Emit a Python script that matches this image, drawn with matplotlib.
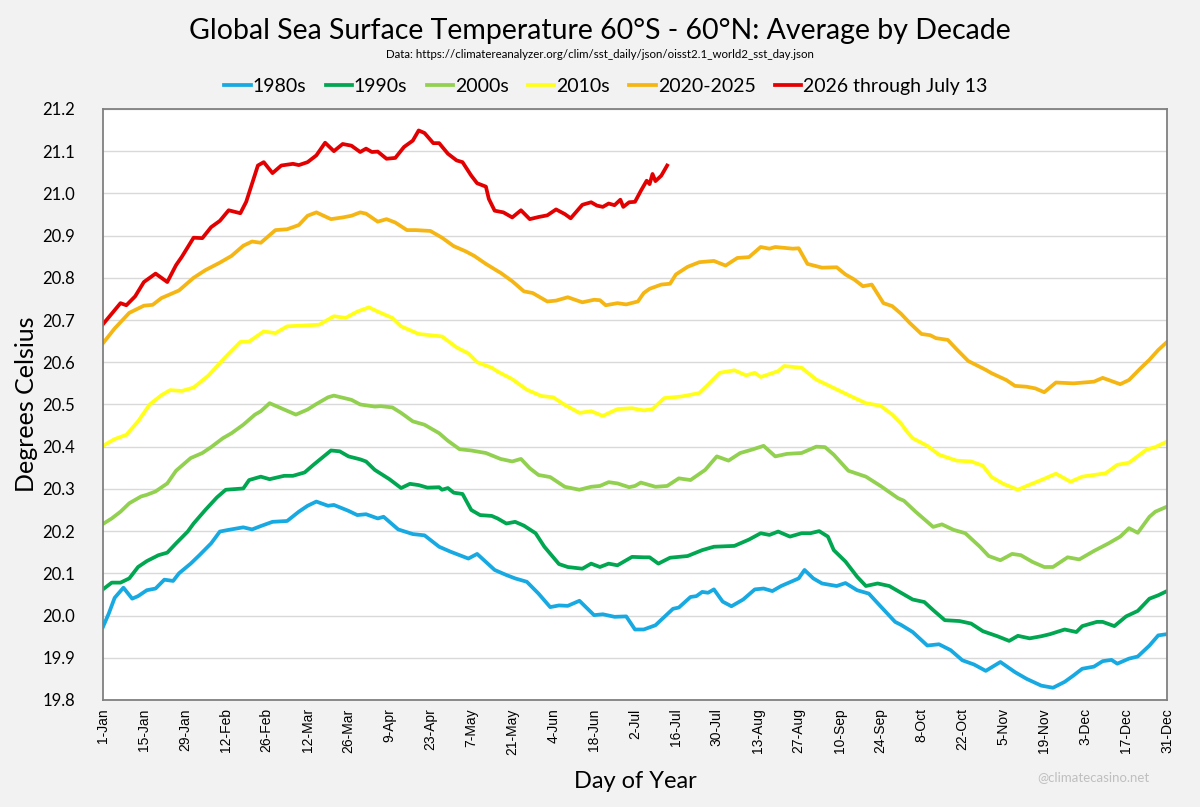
import matplotlib
matplotlib.use("Agg")
import matplotlib.pyplot as plt

# Данные (день года, температура)
days_1980 = [1, 3, 5, 8, 11, 13, 16, 19, 22, 25, 27, 31, 34, 38, 41, 44, 49, 52, 55, 59, 64, 68, 71, 74, 78, 80, 85, 88, 91, 95, 97,
             102, 107, 111, 116, 120, 126, 129, 135, 139, 142, 146, 150, 154, 157, 160, 164, 169, 172, 176, 180, 183, 186, 190,
             196, 198, 202, 204, 206, 208, 210, 213, 216, 220, 224, 227, 230, 233, 237, 239, 241, 244, 247, 252, 255, 259, 263,
             267, 272, 274, 278, 283, 287, 291, 295, 299, 303, 308, 313, 317, 322, 326, 330, 333, 336, 340, 343, 346, 348, 352,
             355, 359, 362, 365]
sst_1980 = [19.973, 20.005, 20.042, 20.066, 20.040, 20.046, 20.060, 20.064, 20.085, 20.082, 20.100, 20.123, 20.143, 20.171,
            20.199, 20.203, 20.209, 20.204, 20.212, 20.222, 20.224, 20.246, 20.260, 20.270, 20.260, 20.262, 20.248, 20.238,
            20.240, 20.230, 20.234, 20.204, 20.193, 20.190, 20.163, 20.151, 20.135, 20.146, 20.108, 20.096, 20.088, 20.080,
            20.052, 20.020, 20.024, 20.023, 20.035, 20.001, 20.003, 19.997, 19.998, 19.967, 19.967, 19.977, 20.016, 20.019,
            20.044, 20.046, 20.056, 20.054, 20.062, 20.033, 20.022, 20.038, 20.062, 20.064, 20.058, 20.070, 20.082, 20.088,
            20.108, 20.088, 20.076, 20.070, 20.077, 20.060, 20.052, 20.022, 19.985, 19.978, 19.961, 19.929, 19.932, 19.918,
            19.894, 19.884, 19.869, 19.890, 19.866, 19.850, 19.834, 19.829, 19.843, 19.858, 19.874, 19.879, 19.892, 19.895,
            19.886, 19.898, 19.903, 19.929, 19.953, 19.956]

days_1990 = [1, 4, 7, 10, 13, 16, 20, 23, 26, 30, 32, 36, 40, 43, 49, 51, 55, 58, 63, 66, 70, 73, 79, 82, 85, 89, 91, 94, 99, 103,
             106, 109, 112, 116, 117, 119, 121, 124, 127, 130, 134, 136, 139, 142, 145, 149, 152, 157, 160, 165, 168, 171, 174,
             177, 182, 186, 188, 191, 195, 201, 206, 210, 217, 222, 226, 229, 232, 236, 240, 243, 246, 249, 251, 255, 259, 262,
             266, 270, 274, 278, 282, 285, 289, 294, 298, 302, 307, 311, 314, 318, 322, 325, 330, 334, 336, 341, 343, 347, 351,
             355, 359, 362, 365]
sst_1990 = [20.062, 20.078, 20.078, 20.088, 20.115, 20.129, 20.143, 20.149, 20.171, 20.199, 20.218, 20.250, 20.280, 20.298,
            20.301, 20.321, 20.329, 20.323, 20.331, 20.331, 20.339, 20.357, 20.391, 20.389, 20.377, 20.370, 20.365, 20.345,
            20.323, 20.302, 20.312, 20.309, 20.303, 20.304, 20.298, 20.302, 20.291, 20.288, 20.250, 20.238, 20.236, 20.230,
            20.218, 20.222, 20.213, 20.195, 20.163, 20.122, 20.115, 20.111, 20.123, 20.115, 20.123, 20.119, 20.139, 20.138,
            20.138, 20.123, 20.137, 20.141, 20.155, 20.163, 20.165, 20.180, 20.195, 20.191, 20.199, 20.187, 20.195, 20.195,
            20.200, 20.187, 20.155, 20.128, 20.092, 20.070, 20.076, 20.070, 20.054, 20.038, 20.032, 20.013, 19.989, 19.987,
            19.981, 19.963, 19.951, 19.940, 19.952, 19.946, 19.951, 19.956, 19.967, 19.961, 19.975, 19.985, 19.985, 19.975,
            19.998, 20.011, 20.040, 20.048, 20.058]

days_2000 = [1, 4, 7, 10, 14, 16, 19, 23, 26, 28, 31, 35, 38, 42, 45, 49, 53, 55, 58, 62, 67, 71, 74, 78, 80, 86, 89, 94, 96, 100,
             103, 107, 111, 116, 119, 123, 127, 132, 137, 141, 144, 147, 150, 154, 159, 164, 168, 171, 174, 177, 181, 183, 185,
             190, 194, 198, 202, 207, 211, 215, 219, 223, 227, 231, 235, 240, 245, 248, 251, 256, 262, 267, 273, 275, 279, 281,
             285, 288, 292, 296, 301, 304, 308, 312, 315, 319, 323, 326, 331, 335, 340, 345, 349, 352, 355, 359, 361, 365]
sst_2000 = [20.217, 20.230, 20.246, 20.266, 20.282, 20.286, 20.294, 20.313, 20.343, 20.355, 20.373, 20.385, 20.399, 20.420,
            20.432, 20.452, 20.476, 20.484, 20.503, 20.491, 20.476, 20.488, 20.501, 20.517, 20.521, 20.511, 20.500, 20.495,
            20.496, 20.493, 20.480, 20.460, 20.452, 20.432, 20.414, 20.394, 20.391, 20.385, 20.371, 20.365, 20.371, 20.349,
            20.333, 20.328, 20.305, 20.298, 20.305, 20.307, 20.316, 20.313, 20.304, 20.307, 20.315, 20.305, 20.307, 20.325,
            20.321, 20.345, 20.377, 20.367, 20.385, 20.393, 20.402, 20.377, 20.383, 20.385, 20.400, 20.399, 20.381, 20.343,
            20.329, 20.307, 20.278, 20.272, 20.246, 20.234, 20.210, 20.216, 20.203, 20.195, 20.163, 20.141, 20.131, 20.146,
            20.143, 20.127, 20.115, 20.115, 20.138, 20.133, 20.153, 20.171, 20.187, 20.207, 20.196, 20.234, 20.246, 20.258]

days_2010 = [1, 5, 9, 13, 17, 21, 24, 28, 32, 37, 43, 48, 51, 56, 60, 64, 75, 80, 84, 88, 92, 95, 100, 103, 109, 117, 122, 126,
             129, 134, 136, 141, 146, 151, 155, 159, 164, 168, 172, 177, 182, 186, 189, 193, 199, 205, 208, 212, 217, 221, 224,
             226, 232, 234, 240, 245, 251, 257, 262, 267, 271, 274, 276, 278, 283, 287, 293, 298, 302, 305, 309, 314, 317, 322,
             327, 332, 336, 340, 344, 348, 352, 358, 361, 365]
sst_2010 = [20.402, 20.418, 20.428, 20.460, 20.500, 20.522, 20.534, 20.532, 20.540, 20.568, 20.613, 20.648, 20.649, 20.673,
            20.669, 20.685, 20.689, 20.709, 20.705, 20.720, 20.730, 20.720, 20.705, 20.685, 20.667, 20.661, 20.635, 20.621,
            20.600, 20.587, 20.578, 20.560, 20.535, 20.520, 20.517, 20.499, 20.480, 20.484, 20.473, 20.489, 20.491, 20.486,
            20.489, 20.515, 20.519, 20.527, 20.547, 20.575, 20.581, 20.569, 20.575, 20.565, 20.579, 20.591, 20.587, 20.559,
            20.539, 20.519, 20.503, 20.497, 20.476, 20.455, 20.436, 20.420, 20.402, 20.381, 20.367, 20.365, 20.355, 20.328,
            20.312, 20.298, 20.307, 20.321, 20.336, 20.317, 20.329, 20.333, 20.337, 20.357, 20.362, 20.393, 20.399, 20.412]

days_2020 = [1, 5, 10, 15, 18, 21, 27, 32, 36, 41, 45, 49, 52, 55, 60, 64, 68, 71, 74, 79, 83, 86, 89, 91, 95, 98, 101, 105, 108,
             113, 117, 121, 125, 128, 132, 136, 137, 141, 145, 148, 153, 156, 160, 165, 169, 171, 173, 177, 180, 184, 186, 188,
             192, 195, 197, 201, 205, 210, 214, 218, 222, 226, 229, 231, 237, 239, 242, 247, 252, 255, 258, 261, 264, 268, 271,
             274, 277, 281, 284, 286, 290, 293, 297, 303, 305, 310, 313, 317, 320, 323, 327, 333, 340, 343, 349, 352, 356, 359,
             362, 365]
sst_2020 = [20.645, 20.680, 20.717, 20.734, 20.736, 20.752, 20.770, 20.800, 20.818, 20.836, 20.852, 20.876, 20.886, 20.883,
            20.913, 20.915, 20.925, 20.947, 20.955, 20.939, 20.943, 20.947, 20.955, 20.952, 20.933, 20.939, 20.931, 20.913,
            20.913, 20.911, 20.895, 20.875, 20.863, 20.852, 20.833, 20.816, 20.812, 20.792, 20.768, 20.764, 20.744, 20.746,
            20.754, 20.742, 20.748, 20.747, 20.735, 20.740, 20.737, 20.744, 20.764, 20.774, 20.784, 20.786, 20.808, 20.826,
            20.837, 20.840, 20.829, 20.847, 20.849, 20.873, 20.869, 20.873, 20.869, 20.870, 20.833, 20.824, 20.825, 20.808,
            20.796, 20.780, 20.784, 20.740, 20.733, 20.715, 20.693, 20.667, 20.664, 20.657, 20.653, 20.631, 20.603, 20.582,
            20.574, 20.558, 20.544, 20.542, 20.538, 20.529, 20.552, 20.550, 20.554, 20.563, 20.548, 20.558, 20.586, 20.606,
            20.629, 20.648]

days_2026 = [1, 7, 9, 12, 15, 19, 23, 26, 28, 32, 35, 38, 41, 44, 48, 50, 54, 56, 59, 62, 66, 68, 71, 74, 77, 80, 83, 86, 89, 91,
             93, 95, 98, 101, 104, 107, 109, 111, 114, 116, 119, 122, 124, 127, 129, 132, 133, 135, 138, 141, 144, 147, 150,
             153, 156, 159, 161, 165, 168, 170, 172, 174, 176, 178, 179, 181, 183, 185, 187, 188, 189, 190, 192, 194]
sst_2026 = [20.690, 20.740, 20.735, 20.756, 20.790, 20.810, 20.790, 20.830, 20.850, 20.895, 20.894, 20.920, 20.935, 20.960,
            20.953, 20.980, 21.066, 21.074, 21.048, 21.066, 21.070, 21.067, 21.074, 21.090, 21.120, 21.100, 21.117, 21.113,
            21.098, 21.106, 21.098, 21.099, 21.082, 21.084, 21.110, 21.125, 21.149, 21.143, 21.119, 21.119, 21.094, 21.078,
            21.074, 21.042, 21.024, 21.016, 20.987, 20.959, 20.955, 20.943, 20.960, 20.939, 20.944, 20.948, 20.962, 20.951,
            20.941, 20.973, 20.979, 20.971, 20.968, 20.976, 20.972, 20.985, 20.968, 20.979, 20.980, 21.006, 21.030, 21.022,
            21.046, 21.029, 21.042, 21.066]

tick_days = [1, 15, 29, 43, 57, 71, 85, 99, 113, 127, 141, 155, 169, 183, 197, 211, 225, 239, 253, 267, 281, 295, 309, 323,
             337, 351, 365]
tick_labels = ['1-Jan', '15-Jan', '29-Jan', '12-Feb', '26-Feb', '12-Mar', '26-Mar', '9-Apr', '23-Apr', '7-May', '21-May',
               '4-Jun', '18-Jun', '2-Jul', '16-Jul', '30-Jul', '13-Aug', '27-Aug', '10-Sep', '24-Sep', '8-Oct', '22-Oct',
               '5-Nov', '19-Nov', '3-Dec', '17-Dec', '31-Dec']
y_ticks = [19.8, 19.9, 20.0, 20.1, 20.2, 20.3, 20.4, 20.5, 20.6, 20.7, 20.8, 20.9, 21.0, 21.1, 21.2]

series = [
    (days_1980, sst_1980, '1980s', '#17a9e1'),
    (days_1990, sst_1990, '1990s', '#00a650'),
    (days_2000, sst_2000, '2000s', '#92d050'),
    (days_2010, sst_2010, '2010s', '#ffff1a'),
    (days_2020, sst_2020, '2020-2025', '#f5b614'),
    (days_2026, sst_2026, '2026 through July 13', '#e30000'),
]

plt.rcParams['font.family'] = ['Lato', 'DejaVu Sans']

fig = plt.figure(figsize=(12, 8.07), dpi=100, facecolor='#f2f2f2')
ax = fig.add_axes([0.0858, 0.1326, 0.8867, 0.7324])
ax.set_facecolor('white')

for d, v, name, col in series:
    ax.plot(d, v, color=col, lw=2.7, label=name, solid_joinstyle='round')

ax.set_xlim(1, 365)
ax.set_ylim(19.8, 21.2)
ax.set_yticks(y_ticks)
ax.set_yticklabels([f'{t:.1f}' for t in y_ticks], fontsize=12)
ax.set_xticks(tick_days)
ax.set_xticklabels(tick_labels, rotation=90, fontsize=10, family='Liberation Sans')
ax.tick_params(axis='y', length=0, pad=20)
ax.tick_params(axis='x', length=0, pad=6)
ax.grid(axis='y', color='#d9d9d9', lw=1)
ax.set_axisbelow(True)
for s in ax.spines.values():
    s.set_color('#808080')
    s.set_linewidth(1.3)

ax.set_ylabel('Degrees Celsius', fontsize=18)
ax.yaxis.set_label_coords(-0.061, 0.5)
ax.set_xlabel('Day of Year', fontsize=17, labelpad=12)

fig.text(0.5, 0.962, 'Global Sea Surface Temperature 60°S - 60°N: Average by Decade',
         ha='center', va='center', fontsize=20.5)
fig.text(0.5, 0.933, 'Data: https://climatereanalyzer.org/clim/sst_daily/json/oisst2.1_world2_sst_day.json',
         ha='center', va='center', fontsize=8.3)
fig.text(0.958, 0.037, '@climatecasino.net', ha='right', va='center', fontsize=9.5, color='#bfbfbf')

fig.legend(loc='center', bbox_to_anchor=(0.505, 0.893), ncol=6, frameon=False, fontsize=14,
           handlelength=1.35, handletextpad=0.1, columnspacing=1.0)

fig.savefig('out.png', dpi=100, facecolor=fig.get_facecolor())
